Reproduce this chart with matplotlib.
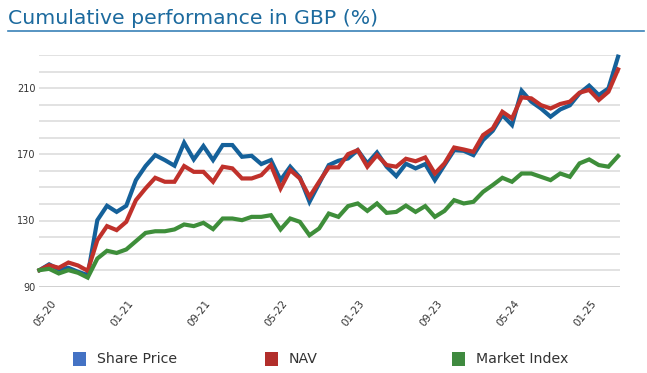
import matplotlib
matplotlib.use("Agg")
import matplotlib.pyplot as plt
import matplotlib.transforms as mtransforms
from matplotlib.patches import Rectangle
from matplotlib.lines import Line2D

# ---- data ----
months = ["%02d-%02d" % (((4 + i) % 12) + 1, 20 + (4 + i) // 12) for i in range(61)]
tick_labels = ["05-20", "01-21", "09-21", "05-22", "01-23", "09-23", "05-24", "01-25"]

share_price = [100, 103.5, 100.5, 101.4, 99, 97, 130.2, 138.9, 135.2, 138.9,
               154.4, 162.9, 169.5, 166.5, 163.1, 177, 166.9, 175, 166.5, 175.6,
               175.6, 168.5, 169.1, 164.1, 166.5, 154.4, 162.5, 156, 141.3, 152.4,
               163.5, 166.1, 167.5, 172.5, 164.5, 171.1, 162.5, 156.8, 164.3, 161.5,
               164.1, 154.4, 163.5, 172.5, 172.1, 169.5, 178.6, 184.2, 193.7, 187.7,
               208.4, 201.8, 197.7, 192.7, 197.1, 199.6, 206.8, 211.5, 205.8, 209.8,
               229]
nav = [100, 103, 101.4, 104.6, 102.8, 99.6, 118.1, 126.6, 124.2, 129.2,
       142.3, 149.4, 155.8, 153.4, 153.4, 162.9, 159.4, 159.4, 153.4, 162.5,
       161.5, 155.4, 155.4, 157.4, 163.5, 149.4, 160.5, 155.4, 144.3, 153.4,
       162.1, 162.1, 170.1, 172.5, 162.5, 169.5, 163.5, 162.5, 167.3, 165.8,
       168.1, 158.4, 164.5, 174.1, 172.9, 171.5, 181.6, 185.6, 195.7, 191.7,
       204.4, 203.8, 199.7, 197.7, 200.4, 201.8, 207.2, 208.9, 202.8, 207.8,
       221.3]
market_index = [100, 100.8, 98, 100, 98.4, 95.5, 107, 111.7, 110.4, 112.5,
                117.5, 122.5, 123.5, 123.5, 124.6, 127.6, 126.6, 128.6, 124.8, 131.2,
                131.2, 130.2, 132.2, 132.2, 133.2, 124.6, 131.2, 129.2, 121.1, 125.2,
                134.2, 132.2, 138.7, 140.3, 135.8, 140.3, 134.6, 135.2, 139, 135.2,
                138.7, 132.2, 135.8, 142.3, 140.3, 141.3, 147.3, 151.4, 155.8, 153.4,
                158.4, 158.4, 156.4, 154.4, 158.4, 156.4, 164.5, 166.9, 163.5, 162.5,
                168.9]
series_names = ["Share Price", "NAV", "Market Index"]
y_ticks = list(range(90, 231, 10))
y_labels = ["90", "130", "170", "210"]

# ---- style ----
line_colors = ["#15619a", "#c0312b", "#3e8e3a"]
legend_colors = ["#4472c4", "#b22e2b", "#3f8a3f"]
W, H = 647, 373

fig = plt.figure(figsize=(W / 100, H / 100), dpi=100)
fig.patch.set_facecolor("white")
ax = fig.add_axes([39 / W, 1 - 286.7 / H, 581 / W, (286.7 - 55) / H])

x = list(range(len(months)))
for vals, c in zip([share_price, nav, market_index], line_colors):
    ax.plot(x, vals, color=c, lw=3.0, solid_joinstyle="miter", clip_on=False, zorder=3)

ax.set_xlim(-0.05, 60.2)
ax.set_ylim(90, 230)
for s in ax.spines.values():
    s.set_visible(False)

ax.set_yticks(y_ticks)
ax.set_yticklabels([str(v) if str(v) in y_labels else "" for v in y_ticks])
ax.yaxis.grid(True, color="#e2e2e2", lw=1.4, zorder=0)
ax.get_ygridlines()[0].set_color("#d0d0d0")
ax.tick_params(axis="y", length=0, pad=2.5, labelsize=7, labelcolor="#333333")

tick_pos = [months.index(t) for t in tick_labels]
ax.set_xticks(tick_pos)
ax.set_xticklabels(tick_labels, rotation=52, ha="right", va="top",
                   rotation_mode="anchor", fontsize=7.5, color="#333333")
ax.tick_params(axis="x", length=0, pad=0)
off = mtransforms.ScaledTranslation(11 / 100, -12 / 100, fig.dpi_scale_trans)
for lab in ax.get_xticklabels():
    lab.set_transform(lab.get_transform() + off)

# ---- title ----
fig.text(7.5 / W, 1 - 23.5 / H, "Cumulative performance in GBP (%)",
         fontsize=14.7, color="#1c6a9e", va="baseline", ha="left")
fig.add_artist(Line2D([7.5 / W, 644 / W], [1 - 31 / H] * 2,
                      color="#3a82b8", lw=1.2, transform=fig.transFigure))

# ---- legend ----
sq_x = [72.7, 264.7, 451.7]
txt_x = [96.7, 288.7, 475.7]
sq = 13.3
yc = 359
for name, c, sx, tx in zip(series_names, legend_colors, sq_x, txt_x):
    fig.add_artist(Rectangle((sx / W, 1 - (yc + sq / 2) / H), sq / W, sq / H,
                             transform=fig.transFigure, facecolor=c, edgecolor="none"))
    fig.text(tx / W, 1 - yc / H, name, fontsize=10.2, color="#333333",
             va="center", ha="left")

fig.savefig("out.png", dpi=100)
